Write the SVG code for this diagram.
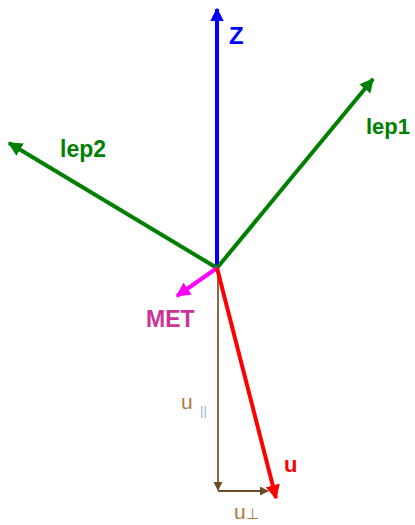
<svg xmlns="http://www.w3.org/2000/svg" width="415" height="525" viewBox="0 0 415 525">
<defs>
<style>
.lbl{font-family:"Liberation Sans",Arial,sans-serif;font-weight:bold}
.thin{font-family:"Liberation Sans",Arial,sans-serif}
</style>
<marker id="aBlue" viewBox="0 0 10 10" refX="9" refY="5" markerWidth="3.4" markerHeight="3.4" orient="auto" markerUnits="strokeWidth"><path d="M0,0 L10,5 L0,10 z" fill="#0000ff"/></marker>
<marker id="aGreen" viewBox="0 0 10 10" refX="9" refY="5" markerWidth="3.6" markerHeight="3.6" orient="auto" markerUnits="strokeWidth"><path d="M0,0 L10,5 L0,10 z" fill="#008000"/></marker>
<marker id="aMag" viewBox="0 0 10 10" refX="9" refY="5" markerWidth="3.6" markerHeight="3.6" orient="auto" markerUnits="strokeWidth"><path d="M0,0 L10,5 L0,10 z" fill="#ff00ff"/></marker>
<marker id="aRed" viewBox="0 0 10 10" refX="9" refY="5" markerWidth="3.6" markerHeight="3.6" orient="auto" markerUnits="strokeWidth"><path d="M0,0 L10,5 L0,10 z" fill="#ff0000"/></marker>
<marker id="aBrown" viewBox="0 0 10 10" refX="9" refY="5" markerWidth="4.5" markerHeight="4.5" orient="auto" markerUnits="strokeWidth"><path d="M0,0 L10,5 L0,10 z" fill="#6b4a2a"/></marker>
</defs>
<g id="connectors" fill="none">
<line x1="218" y1="268" x2="218" y2="490" stroke="#8b6a45" stroke-width="2" marker-end="url(#aBrown)"/>
<line x1="218" y1="491" x2="268" y2="491" stroke="#6b4a2a" stroke-width="2" marker-end="url(#aBrown)"/>
<line x1="217" y1="270" x2="217" y2="9" stroke="#0000ff" stroke-width="4" marker-end="url(#aBlue)"/>
<line x1="217" y1="268" x2="373" y2="79" stroke="#008000" stroke-width="4" marker-end="url(#aGreen)"/>
<line x1="217" y1="268" x2="9" y2="143" stroke="#008000" stroke-width="4" marker-end="url(#aGreen)"/>
<line x1="217" y1="268" x2="177" y2="296" stroke="#ff00ff" stroke-width="4" marker-end="url(#aMag)"/>
<line x1="217" y1="268" x2="276" y2="498" stroke="#ff0000" stroke-width="4" marker-end="url(#aRed)"/>
</g>
<g id="z"><text class="lbl" x="229" y="44" font-size="24" fill="#0000ff">Z</text></g>
<g id="lep1"><text class="lbl" x="366" y="134" font-size="22" fill="#008000">lep1</text></g>
<g id="lep2"><text class="lbl" x="60" y="157" font-size="23" fill="#008000">lep2</text></g>
<g id="met"><text class="lbl" x="146" y="327" font-size="23" fill="#cc3399">MET</text></g>
<g id="u"><text class="lbl" x="284" y="472" font-size="22" fill="#ff0000">u</text></g>
<g id="upar"><text class="thin" x="181" y="409" font-size="21" fill="#b07a3a">u</text><text class="thin" x="200" y="415" font-size="13" fill="#99aadd">||</text></g>
<g id="uperp"><text class="thin" x="234" y="519" font-size="21" fill="#b07a3a">u<tspan font-size="15">⊥</tspan></text></g>
</svg>
